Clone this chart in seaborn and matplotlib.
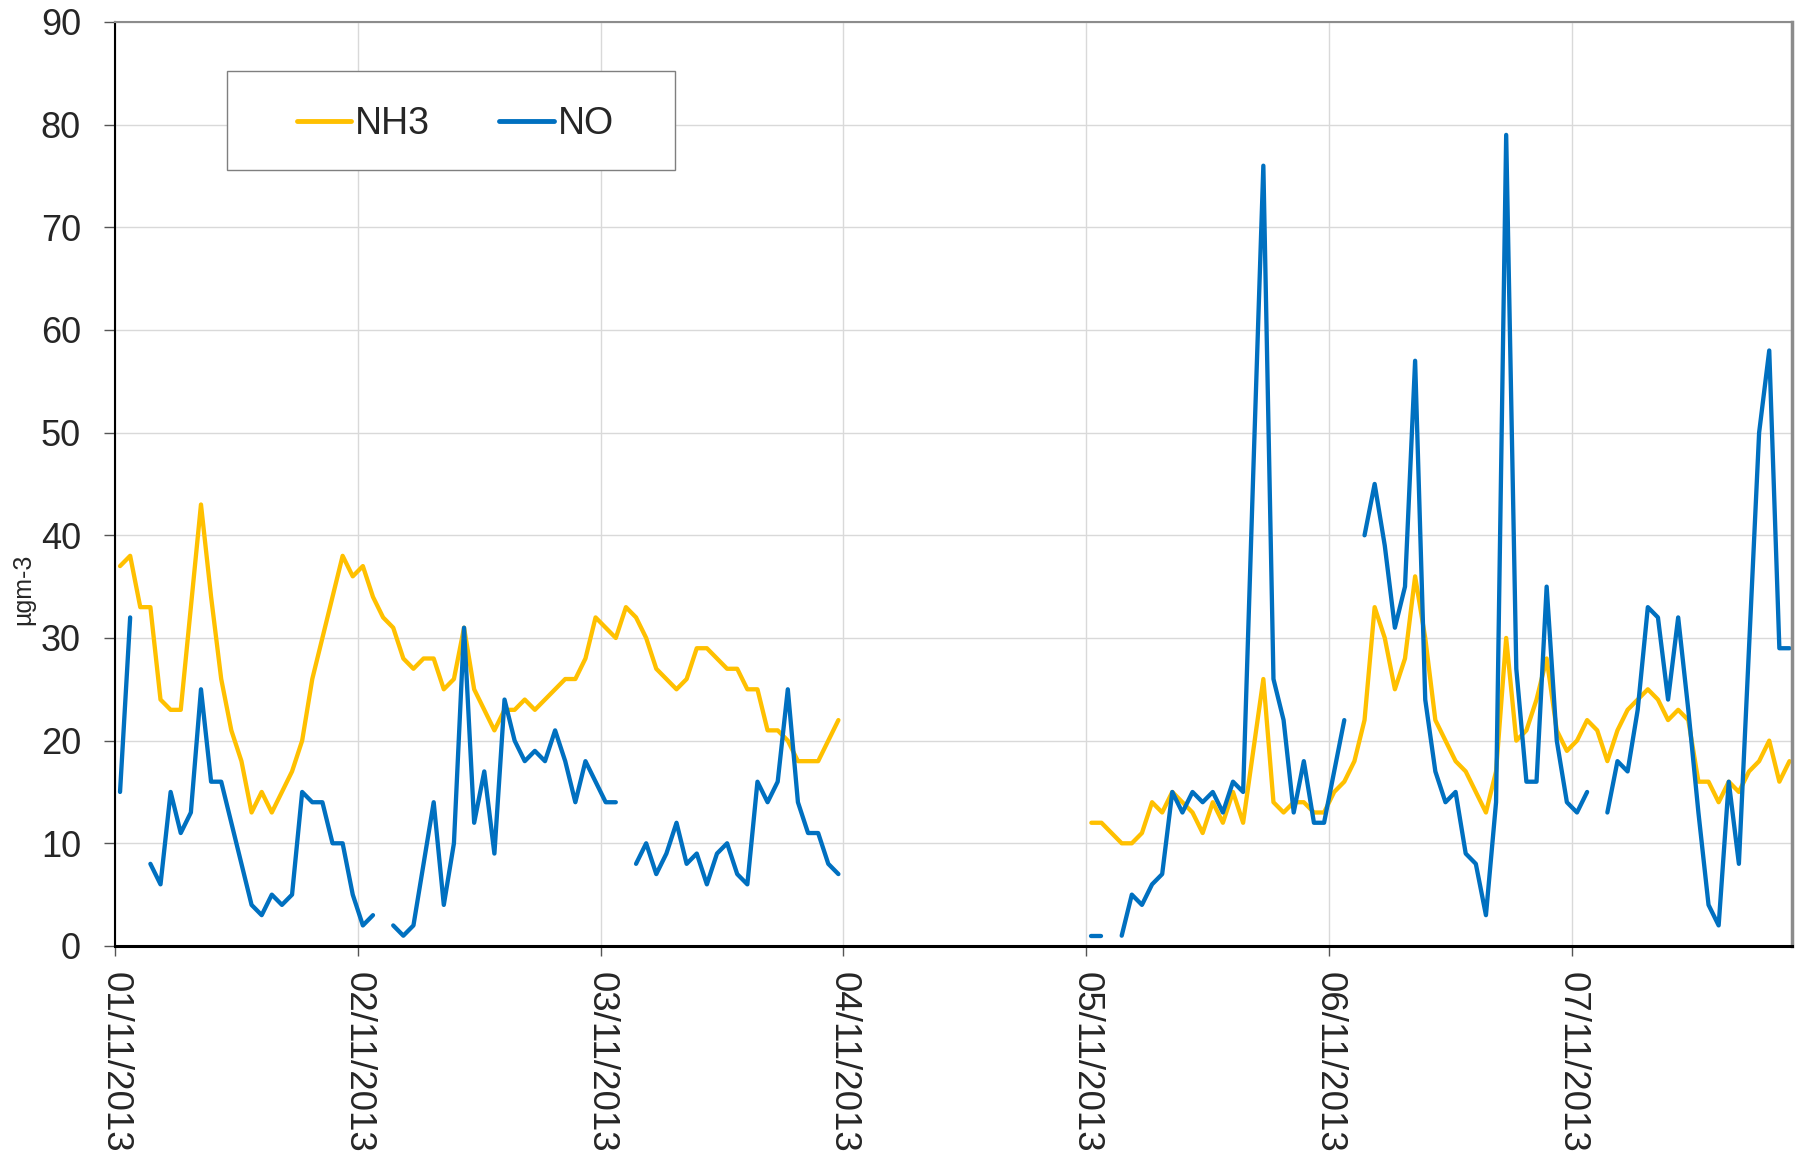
import numpy as np
import pandas as pd
import matplotlib
matplotlib.use("Agg")
import matplotlib.pyplot as plt
import matplotlib.dates as mdates
from matplotlib.patches import Rectangle
import seaborn as sns

# Hourly concentrations (µg m-3), 1-7 November 2013; None = no measurement
nh3 = [
    37, 38, 33, 33, 24, 23, 23, 33, 43, 34, 26, 21, 18, 13, 15, 13, 15, 17, 20, 26, 30, 34, 38, 36,
    37, 34, 32, 31, 28, 27, 28, 28, 25, 26, 31, 25, 23, 21, 23, 23, 24, 23, 24, 25, 26, 26, 28, 32,
    31, 30, 33, 32, 30, 27, 26, 25, 26, 29, 29, 28, 27, 27, 25, 25, 21, 21, 20, 18, 18, 18, 20, 22,
] + [None] * 24 + [
    12, 12, 11, 10, 10, 11, 14, 13, 15, 14, 13, 11, 14, 12, 15, 12, 19, 26, 14, 13, 14, 14, 13, 13,
    15, 16, 18, 22, 33, 30, 25, 28, 36, 30, 22, 20, 18, 17, 15, 13, 17, 30, 20, 21, 24, 28, 21, 19,
    20, 22, 21, 18, 21, 23, 24, 25, 24, 22, 23, 22, 16, 16, 14, 16, 15, 17, 18, 20, 16, 18,
]
no = [
    15, 32, None, 8, 6, 15, 11, 13, 25, 16, 16, 12, 8, 4, 3, 5, 4, 5, 15, 14, 14, 10, 10, 5,
    2, 3, None, 2, 1, 2, 8, 14, 4, 10, 31, 12, 17, 9, 24, 20, 18, 19, 18, 21, 18, 14, 18, 16,
    14, 14, None, 8, 10, 7, 9, 12, 8, 9, 6, 9, 10, 7, 6, 16, 14, 16, 25, 14, 11, 11, 8, 7,
] + [None] * 24 + [
    1, 1, None, 1, 5, 4, 6, 7, 15, 13, 15, 14, 15, 13, 16, 15, 46, 76, 26, 22, 13, 18, 12, 12,
    17, 22, None, 40, 45, 39, 31, 35, 57, 24, 17, 14, 15, 9, 8, 3, 14, 79, 27, 16, 16, 35, 20, 14,
    13, 15, None, 13, 18, 17, 23, 33, 32, 24, 32, 23, 13, 4, 2, 16, 8, 29, 50, 58, 29, 29,
]
series_names = ["NH3", "NO"]
series_colors = {"NH3": "#FFC000", "NO": "#0070C0"}
y_label = "µgm-3"

# hourly means stamped at the middle of each hour
times = pd.date_range("2013-11-01 00:30", periods=len(nh3), freq="h")

frames = []
for name, vals in zip(series_names, [nh3, no]):
    s = pd.Series(vals, index=times, dtype="float")
    seg = s.isna().cumsum()
    d = pd.DataFrame({"time": times, "value": s.values, "species": name,
                      "unit": [f"{name}_{k}" for k in seg]})
    frames.append(d.dropna(subset=["value"]))
long = pd.concat(frames, ignore_index=True)

sns.set_style("white")
plt.rcParams["font.family"] = ["Liberation Sans", "DejaVu Sans"]

fig = plt.figure(figsize=(18.05, 11.68), dpi=100)
ax = fig.add_axes([0.0637, 0.1901, 0.9291, 0.7911])

sns.lineplot(data=long, x="time", y="value", hue="species", units="unit",
             estimator=None, hue_order=series_names, palette=series_colors,
             linewidth=3.1, ax=ax, legend=True,
             solid_capstyle="round", solid_joinstyle="round")

x0 = pd.Timestamp("2013-11-01 00:00")
ax.set_xlim(x0, x0 + pd.Timedelta(hours=165.75))
ax.set_ylim(0, 90)
ax.set_yticks(np.arange(0, 91, 10))
ax.xaxis.set_major_locator(mdates.DayLocator())
ax.xaxis.set_major_formatter(mdates.DateFormatter("%d/%m/%Y"))

ax.grid(True, color="#d9d9d9", linewidth=1.0)
ax.set_axisbelow(True)

ax.tick_params(axis="y", labelsize=26, length=8, width=1, color="#555555",
               direction="out", pad=16.5, left=True)
ax.tick_params(axis="x", labelsize=26.5, length=7.5, width=1, color="#555555",
               direction="out", pad=11, bottom=True, labelrotation=270)

ax.set_xlabel("")
ax.set_ylabel(y_label, fontsize=18)
ax.yaxis.set_label_coords(-0.0475, 0.386)

ax.spines["left"].set_color("black")
ax.spines["left"].set_linewidth(1.5)
ax.spines["bottom"].set_color("black")
ax.spines["bottom"].set_linewidth(2.2)
ax.spines["top"].set_color("#8c8c8c")
ax.spines["top"].set_linewidth(1.5)
ax.spines["right"].set_color("#8c8c8c")
ax.spines["right"].set_linewidth(2.5)

# legend box
ax.add_patch(Rectangle((0.0667, 0.8394), 0.2670, 0.1071, transform=ax.transAxes,
                       facecolor="white", edgecolor="#7f7f7f", linewidth=1.0,
                       zorder=4.9))
handles, labels = ax.get_legend_handles_labels()
leg = ax.legend(handles, labels, ncol=2, loc="center",
                bbox_to_anchor=(0.2029, 0.8893), fontsize=27,
                frameon=False, handlelength=1.45, handletextpad=0.1,
                columnspacing=1.85, borderpad=0.5)
leg.set_zorder(5)
for h in leg.get_lines():
    h.set_linewidth(3.5)

fig.savefig("out.png", dpi=100)
